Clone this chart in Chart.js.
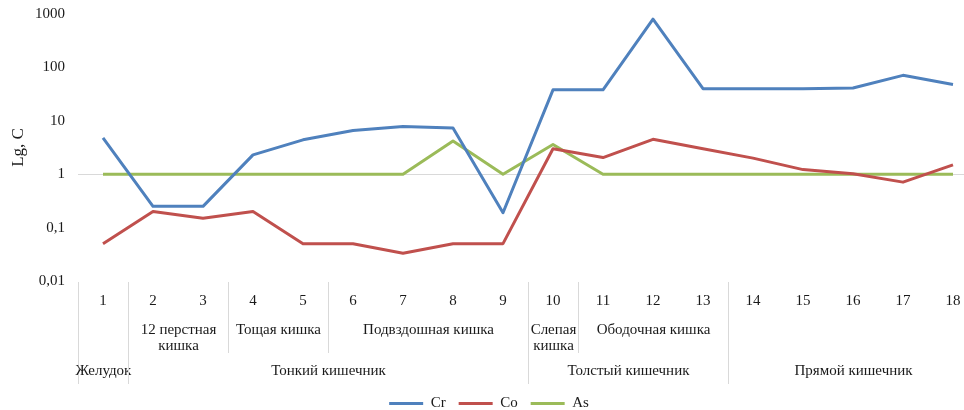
<!DOCTYPE html>
<html lang="ru">
<head>
<meta charset="utf-8">
<title>Lg, C</title>
<script src="https://cdn.jsdelivr.net/npm/chart.js@4.4.1/dist/chart.umd.min.js"></script>
<style>
	html, body { margin: 0; padding: 0; background: #fff; overflow: hidden; }
	#wrap { position: relative; width: 980px; height: 421px; }
</style>
</head>
<body>
<div id="wrap"><canvas id="chart"></canvas></div>
<script>
const categories = ['1', '2', '3', '4', '5', '6', '7', '8', '9', '10', '11', '12', '13', '14', '15', '16', '17', '18'];

// second row of the category axis (name lines, number of categories covered)
const segmentNames = [[''], ['12 перстная', 'кишка'], ['Тощая кишка'], ['Подвздошная кишка'], ['Слепая', 'кишка'], ['Ободочная кишка'], ['']];
const segmentSpans = [1, 2, 2, 4, 1, 3, 5];

// third row of the category axis
const sectionNames = ['Желудок', 'Тонкий кишечник', 'Толстый кишечник', 'Прямой кишечник'];
const sectionSpans = [1, 8, 4, 5];

const crValues = [4.8, 0.25, 0.25, 2.3, 4.4, 6.6, 7.8, 7.3, 0.19, 38, 38, 800, 40, 40, 40, 41, 71, 48];
const coValues = [0.05, 0.2, 0.15, 0.2, 0.05, 0.05, 0.033, 0.05, 0.05, 3, 2.05, 4.5, 3, 2, 1.22, 1.02, 0.71, 1.5];
const asValues = [1, 1, 1, 1, 1, 1, 1, 4.2, 1, 3.6, 1, 1, 1, 1, 1, 1, 1, 1];

const yTickValues = [0.01, 0.1, 1, 10, 100, 1000];
const yTickLabels = ['0,01', '0,1', '1', '10', '100', '1000'];

const textColor = '#1a1a1a';
const lineGray = '#d9d9d9';
const serif = 'Liberation Serif';
const fontSize = 15;

function series(label, data, color) {
	return {
		label,
		data,
		borderColor: color,
		backgroundColor: color,
		borderWidth: 3,
		pointRadius: 0,
		pointHoverRadius: 0,
		tension: 0,
		borderJoinStyle: 'round',
	};
}

// draws the two lower rows of the category axis and their separators
const categoryGroups = {
	id: 'categoryGroups',
	afterDraw(chart) {
		const { ctx, chartArea } = chart;
		const x = chart.scales.x;
		const half = (x.getPixelForValue(1) - x.getPixelForValue(0)) / 2;
		const edge = (index) => Math.round(x.getPixelForValue(index) - half) + 0.5;
		const base = chartArea.bottom;

		ctx.save();
		ctx.strokeStyle = lineGray;
		ctx.lineWidth = 1;
		ctx.fillStyle = textColor;
		ctx.font = `${fontSize}px "${serif}"`;
		ctx.textAlign = 'center';
		ctx.textBaseline = 'middle';

		let start = 0;
		segmentSpans.forEach((span, i) => {
			const left = edge(start);
			const right = edge(start + span);
			ctx.beginPath();
			ctx.moveTo(left, base + 1);
			ctx.lineTo(left, base + 72);
			ctx.stroke();
			const lines = segmentNames[i];
			lines.forEach((line, k) => {
				ctx.fillText(line, (left + right) / 2, base + 49 + k * 16);
			});
			start += span;
		});

		start = 0;
		sectionSpans.forEach((span, i) => {
			const left = edge(start);
			const right = edge(start + span);
			ctx.beginPath();
			ctx.moveTo(left, base + 1);
			ctx.lineTo(left, base + 103);
			ctx.stroke();
			ctx.fillText(sectionNames[i], (left + right) / 2, base + 90);
			start += span;
		});
		ctx.restore();
	},
};

const canvas = document.querySelector('#chart');

new Chart(canvas.getContext('2d'), {
	type: 'line',
	data: {
		labels: categories,
		datasets: [
			series('Cr', crValues, '#4f81bd'),
			series('Co', coValues, '#c0504d'),
			series('As', asValues, '#9bbb59'),
		],
	},
	plugins: [categoryGroups],
	options: {
		animation: false,
		responsive: true,
		maintainAspectRatio: false,
		devicePixelRatio: 1,
		layout: { padding: { top: 0, right: 2, left: 0, bottom: 0 } },
		plugins: {
			tooltip: { enabled: false },
			legend: {
				position: 'bottom',
				labels: {
					boxWidth: 34,
					boxHeight: 3,
					padding: 13,
					color: textColor,
					font: { family: serif, size: fontSize, lineHeight: 1 },
					generateLabels: (chart) => Chart.defaults.plugins.legend.labels
						.generateLabels(chart)
						.map((item) => ({ ...item, lineWidth: 0 })),
				},
			},
		},
		scales: {
			x: {
				type: 'category',
				offset: true,
				grid: { display: false, drawTicks: false },
				border: { display: false },
				ticks: {
					color: textColor,
					font: { family: serif, size: fontSize },
					padding: 11,
					maxRotation: 0,
					autoSkip: false,
				},
				afterFit: (scale) => { scale.height = 102; },
			},
			y: {
				type: 'logarithmic',
				min: 0.01,
				max: 1000,
				border: { display: false },
				grid: {
					drawTicks: true,
					tickLength: 8,
					tickColor: 'rgba(0,0,0,0)',
					color: (context) => (context.tick && context.tick.value === 1 ? lineGray : 'rgba(0,0,0,0)'),
				},
				afterBuildTicks: (scale) => {
					scale.ticks = yTickValues.map((value) => ({ value }));
				},
				ticks: {
					color: textColor,
					font: { family: serif, size: fontSize },
					padding: 5,
					callback: (value) => {
						const index = yTickValues.indexOf(value);
						return index >= 0 ? yTickLabels[index] : '';
					},
				},
				title: {
					display: true,
					text: 'Lg, C',
					color: textColor,
					font: { family: serif, size: 17 },
					padding: { top: 8, bottom: 0 },
				},
				afterFit: (scale) => { scale.width = 78; },
			},
		},
	},
});
</script>
</body>
</html>
